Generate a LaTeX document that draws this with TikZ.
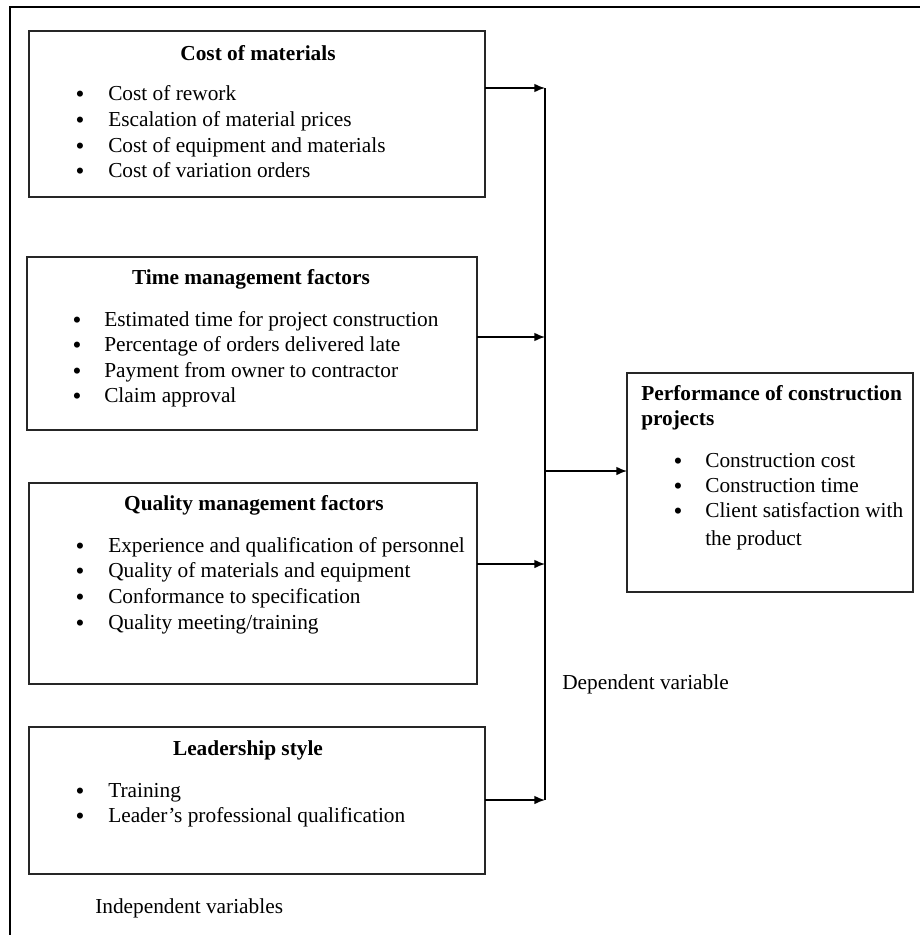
\documentclass[tikz,border=0pt]{standalone}
\usepackage{fontspec}
\setmainfont{Liberation Serif}
\usetikzlibrary{arrows.meta}

\begin{document}
\begin{tikzpicture}[x=0.75pt,y=-0.75pt,font=\fontsize{16}{19}\selectfont,
  factor/.style={draw=black!85,line width=1.2pt,anchor=north west,inner sep=0pt,outer sep=0pt},
  head/.style={anchor=base,inner sep=0pt,font=\fontsize{16}{19}\selectfont\bfseries},
  dot/.style={anchor=base,inner sep=0pt,yshift=-1.5pt,font=\fontsize{19}{21}\selectfont},
  item/.style={anchor=base west,inner sep=0pt},
  link/.style={line width=1.1pt,-{Latex[length=8pt,width=6.5pt]}}]
\useasboundingbox (0,0) rectangle (920,935);
\draw[line width=1.8pt] (10,935) -- (10,7) -- (920,7);
\node[factor,minimum width=342pt,minimum height=124.5pt] (cost) at (29,31) {};
\node[factor,minimum width=337.5pt,minimum height=129.75pt] (time) at (27,257) {};
\node[factor,minimum width=336pt,minimum height=150.75pt] (quality) at (29,483) {};
\node[factor,minimum width=342pt,minimum height=110.25pt] (leader) at (29,727) {};
\node[factor,minimum width=214.5pt,minimum height=164.25pt] (perf) at (627,373) {};
\node[head] (cost-h) at (258,60) {Cost of materials};
\node[head] (time-h) at (251,284) {Time management factors};
\node[head] (quality-h) at (254,510) {Quality management factors};
\node[head] (leader-h) at (248,755) {Leadership style};
\node[head,anchor=base west] (perf-h1) at (641,400) {Performance of construction};
\node[head,anchor=base west] (perf-h2) at (641,425) {projects};
\foreach \y/\t [count=\i] in {100/Cost of rework,126/Escalation of material prices,152/Cost of equipment and materials,177/Cost of variation orders} {
  \node[dot] (cost-b\i) at (80,\y) {\textbullet};
  \node[item] (cost-\i) at (108,\y) {\t};}
\foreach \y/\t [count=\i] in {326/Estimated time for project construction,351/Percentage of orders delivered late,377/Payment from owner to contractor,402/Claim approval} {
  \node[dot] (time-b\i) at (77,\y) {\textbullet};
  \node[item] (time-\i) at (104,\y) {\t};}
\foreach \y/\t [count=\i] in {552/Experience and qualification of personnel,577/Quality of materials and equipment,603/Conformance to specification,629/{Quality meeting/training}} {
  \node[dot] (quality-b\i) at (80,\y) {\textbullet};
  \node[item] (quality-\i) at (108,\y) {\t};}
\foreach \y/\t [count=\i] in {797/Training,822/Leader’s professional qualification} {
  \node[dot] (leader-b\i) at (80,\y) {\textbullet};
  \node[item] (leader-\i) at (108,\y) {\t};}
\foreach \y/\t [count=\i] in {467/Construction cost,492/Construction time,517/Client satisfaction with} {
  \node[dot] (perf-b\i) at (678,\y) {\textbullet};
  \node[item] (perf-\i) at (705,\y) {\t};}
\node[item] (perf-4) at (705,545) {the product};
\node[item] (dep) at (562,689) {Dependent variable};
\node[item] (indep) at (95,913) {Independent variables};
\coordinate (bus1) at (545,88);
\coordinate (bus2) at (545,337);
\coordinate (bus3) at (545,564);
\coordinate (bus4) at (545,800);
\coordinate (busout) at (545,471);
\draw[line width=1.1pt] (bus1) -- (bus4);
\draw[link] (cost.east |- bus1) -- (bus1);
\draw[link] (time.east |- bus2) -- (bus2);
\draw[link] (quality.east |- bus3) -- (bus3);
\draw[link] (leader.east |- bus4) -- (bus4);
\draw[link] (busout) -- (perf.west |- busout);
\end{tikzpicture}
\end{document}
